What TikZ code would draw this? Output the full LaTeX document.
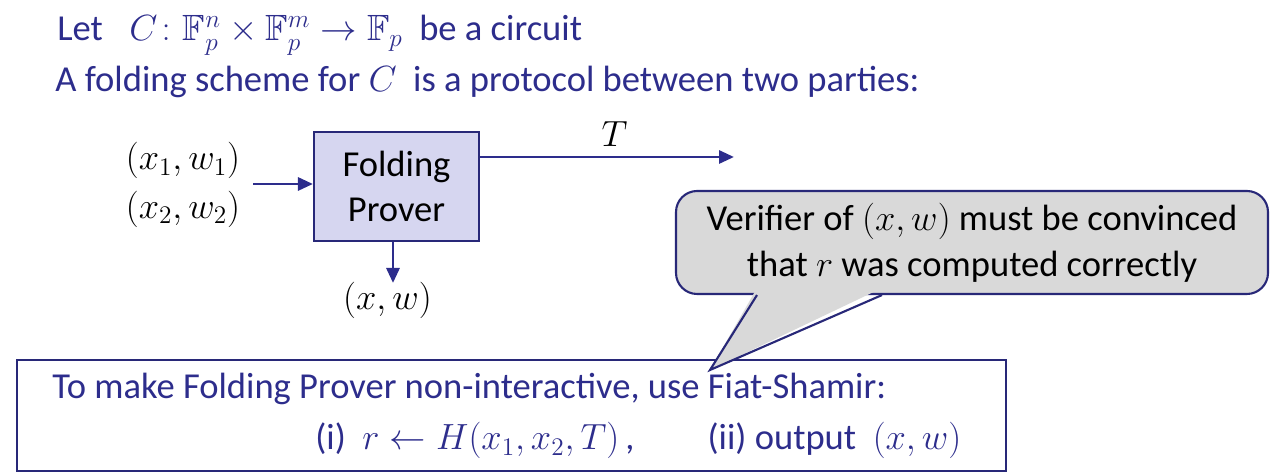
\documentclass[tikz,border=0pt]{standalone}
\usepackage{amsmath,amssymb}
\usepackage{fontspec}
\setmainfont{Carlito}
\usetikzlibrary{positioning,arrows.meta,calc}
\definecolor{slideblue}{RGB}{45,45,140}
\definecolor{edgeblue}{RGB}{40,40,120}
\definecolor{proverfill}{RGB}{214,214,240}
\definecolor{bubblegray}{RGB}{217,217,217}
\tikzset{
  >={Triangle[length=3mm,width=2.6mm]},
  ligne/.style={anchor=base west, text=slideblue, inner sep=0pt},
  prouveur/.style={draw=edgeblue, fill=proverfill, line width=1.2pt, align=center,
    minimum width=3.3cm, minimum height=2.18cm, inner sep=0pt},
  bulle/.style={draw=edgeblue, fill=bubblegray, line width=1.2pt, rounded corners=12pt,
    align=center, minimum width=11.84cm, minimum height=2.06cm, inner sep=0pt},
  cadre/.style={draw=edgeblue, line width=1.2pt, minimum width=19.78cm,
    minimum height=2.22cm, inner sep=0pt},
  fleche/.style={->, line width=1.7pt, draw=slideblue},
}
\begin{document}
\begin{tikzpicture}[font=\fontsize{20.8}{26}\selectfont]
  \useasboundingbox (0,0) rectangle (25.6,-9.48);
  % titles
  \node[ligne] (l1) at (1.14,-0.82) {Let\enspace\ $C\colon \mathbb{F}_p^n \times \mathbb{F}_p^m \rightarrow \mathbb{F}_p$\ \ be a circuit};
  \node[ligne] (l2) at (1.1,-1.84) {A folding scheme for $C$\ \ is a protocol between two parties:};
  % prover
  \node[prouveur] (fp) at (7.93,-3.73) {Folding\\ Prover};
  \node[align=center, inner sep=0pt, font=\fontsize{22}{27.5}\selectfont] (in) at (3.66,-3.7) {$(x_1,w_1)$\\ $(x_2,w_2)$};
  \node[inner sep=0pt, font=\fontsize{22}{27.5}\selectfont] (out) at (7.75,-6.0) {$(x,w)$};
  \coordinate (tend) at (14.68,-3.14);
  \draw[fleche] (5.06,-3.68) -- (fp.west |- 5.06,-3.68) coordinate (inend);
  \draw[fleche] (fp.east |- tend) -- node[pos=0.53, above=2pt, text=black] {$T$} (tend);
  \draw[fleche] (fp.south -| 7.86,0) -- (7.86,-5.66);
  % bottom frame
  \node[cadre] (fs) at (10.23,-8.31) {};
  \node[ligne] (fs1) at (1.04,-7.98) {To make Folding Prover non-interactive, use Fiat-Shamir:};
  \node[ligne] (fs2) at (6.3,-9.0) {(i)\ \ $r \leftarrow H(x_1,x_2,T)$\,,\qquad (ii) output\ \ $(x,w)$};
  % callout
  \node[bulle] (vb) at (19.44,-4.85) {Verifier of $(x,w)$ must be convinced\\ that $r$ was computed correctly};
  \coordinate (tip) at (14.2,-7.4);
  \coordinate (b1) at (15.14,-5.86);
  \coordinate (b2) at (17.64,-5.86);
  \fill[bubblegray] ($(b1)+(0,0.1)$) -- (tip) -- ($(b2)+(0,0.1)$) -- cycle;
  \draw[edgeblue, line width=1.2pt, line join=miter] (b1 |- vb.south) -- (tip) -- (b2 |- vb.south);
\end{tikzpicture}
\end{document}
